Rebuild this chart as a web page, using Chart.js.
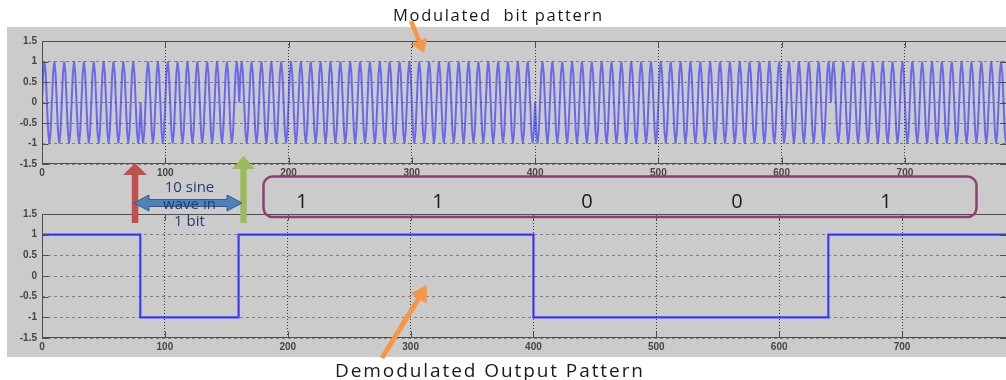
<!DOCTYPE html>
<html>
<head>
<meta charset="utf-8">
<script src="https://cdn.jsdelivr.net/npm/chart.js@4.4.1/dist/chart.umd.min.js"></script>
<style>
  html, body { margin: 0; padding: 0; background: #ffffff; }
  #stage { position: relative; width: 1006px; height: 380px; overflow: hidden; }
  #panel { position: absolute; left: 7px; top: 27px; width: 999px; height: 330px; background: #cbcbcb; }
  canvas { position: absolute; left: 0; }
  #modChart { top: 27px; }
  #demodChart { top: 190px; }
  #notes { position: absolute; left: 0; top: 0; pointer-events: none; }
  .lbl { font-family: "Open Sans", "DejaVu Sans", sans-serif; }
</style>
</head>
<body>
<div id="stage">
  <div id="panel"></div>
  <canvas id="modChart" width="1006" height="160"></canvas>
  <canvas id="demodChart" width="1006" height="167"></canvas>
  <svg id="notes" width="1006" height="380" xmlns="http://www.w3.org/2000/svg">
    <g id="arrows"></g>
    <rect x="263.5" y="176.5" width="713" height="40.5" rx="9" ry="9" fill="none" stroke="#8e3f73" stroke-width="2.5"/>
    <g class="lbl" font-size="20" fill="#1a1a1a" text-anchor="middle">
      <text x="302" y="208">1</text>
      <text x="438" y="208">1</text>
      <text x="587" y="208">0</text>
      <text x="737" y="208">0</text>
      <text x="886" y="208">1</text>
    </g>
    <g class="lbl" font-size="15" fill="#1f3f73" text-anchor="middle">
      <text x="189.5" y="192">10 sine</text>
      <text x="189.5" y="209">wave in</text>
      <text x="189.5" y="226">1 bit</text>
    </g>
    <text class="lbl" x="393" y="20.5" font-size="16.5" fill="#1a1a1a" textLength="209" lengthAdjust="spacing" xml:space="preserve">Modulated  bit pattern</text>
    <text class="lbl" x="335" y="376.5" font-size="19" fill="#1a1a1a" textLength="308" lengthAdjust="spacing">Demodulated Output Pattern</text>
  </svg>
</div>
<script>
// Transmitted bit stream, one entry per bit
const bits = [1, 0, 1, 1, 1, 0, 0, 0, 1, 1];
const samplesPerBit = 80;
// One carrier period (8 samples); 10 periods make up one bit
const carrierCycle = [0, 0.71, 1, 0.71, 0, -0.71, -1, -0.71];
// Axis ticks
const xTicks = [0, 100, 200, 300, 400, 500, 600, 700];
const yTicks = [-1.5, -1, -0.5, 0, 0.5, 1, 1.5];

// BPSK: each bit keeps or inverts the carrier
const modulated = [];
bits.forEach((b, i) => {
  const sign = b ? 1 : -1;
  for (let k = 0; k < samplesPerBit; k++) {
    const n = i * samplesPerBit + k;
    modulated.push({ x: n, y: sign * carrierCycle[n % carrierCycle.length] });
  }
});

// Demodulated output: one level per bit, held across the bit
const demodulated = bits.map((b, i) => ({ x: i * samplesPerBit, y: b ? 1 : -1 }));
demodulated.push({ x: bits.length * samplesPerBit, y: bits[bits.length - 1] ? 1 : -1 });

// Box around the plot area with short inward ticks on all four sides
const boxedAxes = {
  id: 'boxedAxes',
  afterDraw(chart) {
    const { ctx, chartArea: a, scales: { x, y } } = chart;
    const L = Math.round(a.left) + 0.5;
    const T = Math.round(a.top) + 0.5, B = Math.round(a.bottom) - 0.5;
    ctx.save();
    ctx.strokeStyle = '#4d4d4d';
    ctx.lineWidth = 1;
    ctx.beginPath();
    ctx.moveTo(L, T); ctx.lineTo(a.right + 2, T);
    ctx.moveTo(L, T); ctx.lineTo(L, B);
    ctx.lineTo(a.right + 2, B);
    const len = 6;
    x.ticks.forEach(t => {
      const px = Math.round(x.getPixelForValue(t.value)) + 0.5;
      ctx.moveTo(px, B); ctx.lineTo(px, B - len);
      ctx.moveTo(px, T); ctx.lineTo(px, T + len);
    });
    y.ticks.forEach(t => {
      const py = Math.round(y.getPixelForValue(t.value)) + 0.5;
      ctx.moveTo(L, py); ctx.lineTo(L + len, py);
      ctx.moveTo(a.right, py); ctx.lineTo(a.right - len, py);
    });
    ctx.stroke();
    ctx.restore();
  }
};

const tickFont = { family: 'Liberation Sans', size: 10, weight: 'bold' };

function axesOptions(xMax, padTop, xHeight) {
  return {
    responsive: false,
    animation: false,
    events: [],
    layout: { padding: { top: padTop, left: 0, right: 0, bottom: 0 } },
    plugins: { legend: { display: false }, tooltip: { enabled: false } },
    scales: {
      x: {
        type: 'linear', min: 0, max: xMax,
        afterBuildTicks: s => { s.ticks = xTicks.map(v => ({ value: v })); },
        afterFit: s => { s.height = xHeight; },
        grid: { color: '#3a3a3a', lineWidth: 1, drawTicks: false },
        border: { display: false, dash: [1, 2] },
        ticks: { padding: 3, color: '#454545', font: tickFont, maxRotation: 0, autoSkip: false, callback: v => String(v) }
      },
      y: {
        type: 'linear', min: -1.5, max: 1.5,
        afterBuildTicks: s => { s.ticks = yTicks.map(v => ({ value: v })); },
        afterFit: s => { s.width = 42; },
        grid: { color: '#808080', lineWidth: 1, drawTicks: false },
        border: { display: false, dash: [3, 3] },
        ticks: { padding: 5, color: '#454545', font: tickFont, autoSkip: false, callback: v => String(v) }
      }
    }
  };
}

new Chart(document.getElementById('modChart'), {
  type: 'line',
  data: { datasets: [{
    data: modulated,
    borderColor: 'rgba(45, 45, 255, 0.62)',
    borderWidth: 2,
    borderJoinStyle: 'bevel',
    pointRadius: 0,
    tension: 0,
    fill: false
  }] },
  options: axesOptions(782, 14, 23),
  plugins: [boxedAxes]
});

new Chart(document.getElementById('demodChart'), {
  type: 'line',
  data: { datasets: [{
    data: demodulated,
    borderColor: 'rgba(35, 35, 255, 0.85)',
    borderWidth: 2.2,
    pointRadius: 0,
    stepped: 'before',
    fill: false
  }] },
  options: axesOptions(784.6, 24, 19),
  plugins: [boxedAxes]
});

// Callout arrows
function arrowPoints(tx, ty, hx, hy, shaft, headLen, headW) {
  const dx = hx - tx, dy = hy - ty, d = Math.hypot(dx, dy);
  const ux = dx / d, uy = dy / d, nx = -uy, ny = ux;
  const bx = hx - ux * headLen, by = hy - uy * headLen;
  const pts = [
    [tx + nx * shaft / 2, ty + ny * shaft / 2],
    [bx + nx * shaft / 2, by + ny * shaft / 2],
    [bx + nx * headW / 2, by + ny * headW / 2],
    [hx, hy],
    [bx - nx * headW / 2, by - ny * headW / 2],
    [bx - nx * shaft / 2, by - ny * shaft / 2],
    [tx - nx * shaft / 2, ty - ny * shaft / 2]
  ];
  return pts.map(p => p[0].toFixed(1) + ',' + p[1].toFixed(1)).join(' ');
}
const svgNS = 'http://www.w3.org/2000/svg';
const g = document.getElementById('arrows');
function addPoly(points, fill, stroke) {
  const p = document.createElementNS(svgNS, 'polygon');
  p.setAttribute('points', points);
  p.setAttribute('fill', fill);
  if (stroke) { p.setAttribute('stroke', stroke); p.setAttribute('stroke-width', '1'); }
  g.appendChild(p);
}
addPoly(arrowPoints(135, 223, 135, 163, 6.5, 12, 24), '#c0504d');
addPoly(arrowPoints(243.5, 223, 243.5, 156, 6.5, 13, 23), '#9bbb59');
addPoly(arrowPoints(411, 21, 424, 53, 4.5, 13, 17), '#f79646');
addPoly(arrowPoints(382, 358, 427, 285, 5, 16, 19), '#f79646');
// double-headed span arrow across one bit
addPoly('134,203 149,195 149,199.5 227,199.5 227,195 242,203 227,211 227,206.5 149,206.5 149,211',
        '#4f81bd', '#385d8a');
</script>
</body>
</html>
